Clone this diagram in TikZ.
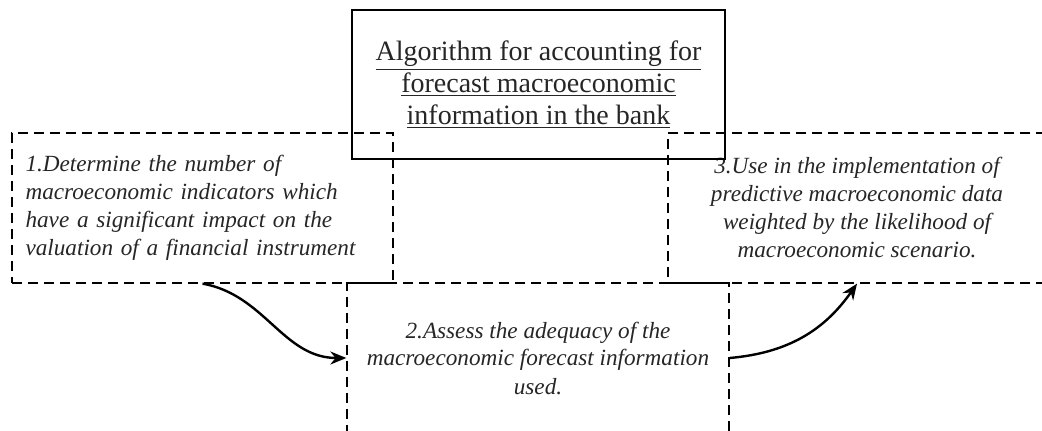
\documentclass[tikz,border=0pt]{standalone}
\usepackage{fontspec}
\setmainfont{Liberation Serif}
\usetikzlibrary{arrows.meta}
\begin{document}
\begin{tikzpicture}[x=0.5pt,y=-0.5pt,
  stepbox/.style={draw,dash pattern=on 5pt off 3pt,line width=0.65pt,inner sep=0pt,text=black!85,font=\itshape\fontsize{11.6}{14}\selectfont},
  titlebox/.style={draw,line width=0.65pt,inner sep=0pt,align=center,text=black!85,font=\fontsize{14}{16}\selectfont},
  flow/.style={-{Stealth[length=8pt,width=6.5pt]},line width=1.2pt}]
\useasboundingbox (0,0) rectangle (1042,431);
\clip (0,0) rectangle (1042,431);
\node[stepbox,minimum width=190.5pt,minimum height=75pt,text width=177pt,align=left] (s1) at (202.5,208) {1.Determine the number of\\ macroeconomic indicators which\\ have a significant impact on the\\ valuation of a financial instrument};
\node[stepbox,minimum width=191pt,minimum height=75pt,align=center] (s2) at (538,358) {2.Assess the adequacy of the\\ macroeconomic forecast information\\ used.};
\node[stepbox,minimum width=189pt,minimum height=75pt,align=center] (s3) at (857,208) {3.Use in the implementation of\\ predictive macroeconomic data\\ weighted by the likelihood of\\ macroeconomic scenario.};
\node[titlebox,minimum width=186.5pt,minimum height=74.5pt] (t) at (538.5,84.5) {\underline{Algorithm for accounting for}\\ \underline{forecast macroeconomic}\\ \underline{information in the bank}};
\draw[flow] (s1.south) to[out=-10,in=180] (s2.west);
\draw[flow] (s2.east) to[out=5,in=-125] (s3.south);
\end{tikzpicture}
\end{document}
